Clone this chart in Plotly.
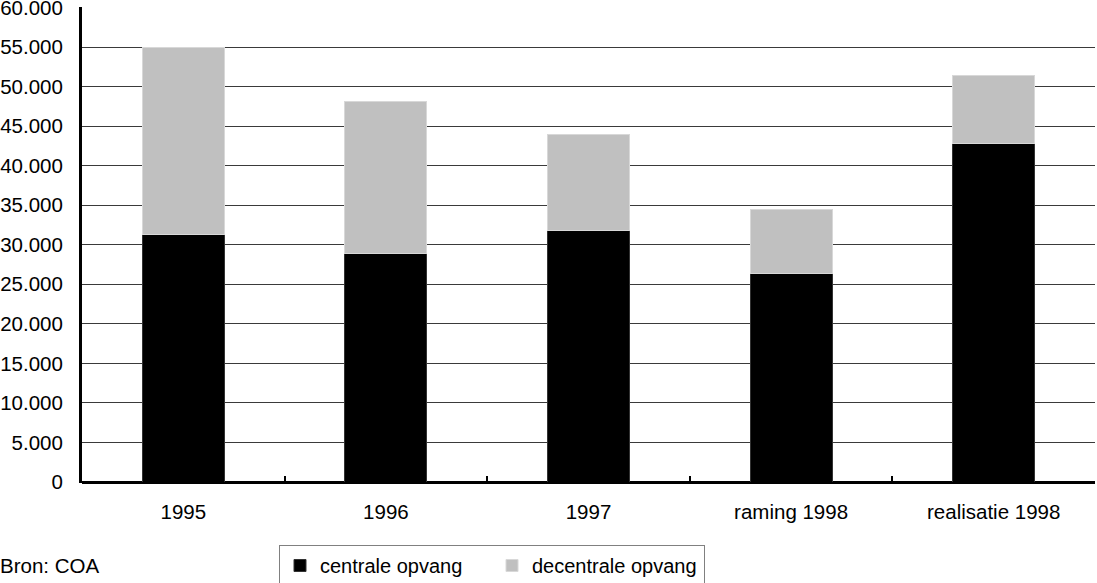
import plotly.graph_objects as go

categories = ["1995", "1996", "1997", "raming 1998", "realisatie 1998"]
centrale = [31300, 28900, 31800, 26400, 42800]
decentrale = [23700, 19200, 12200, 8000, 8600]
y_ticks = [0, 5000, 10000, 15000, 20000, 25000, 30000, 35000, 40000, 45000, 50000, 55000, 60000]

FONT = "Liberation Sans, Arial, Helvetica, sans-serif"
FS = 20.5

fig = go.Figure()
fig.add_trace(go.Bar(x=categories, y=centrale, name="centrale opvang",
                     marker=dict(color="#000000", line=dict(color="#333333", width=1))))
fig.add_trace(go.Bar(x=categories, y=decentrale, name="decentrale opvang",
                     marker=dict(color="#C0C0C0", line=dict(color="#D8D8D8", width=1))))

fig.update_layout(
    barmode="stack",
    bargap=0.595,
    width=1097, height=583,
    margin=dict(l=82, r=2, t=7, b=101, autoexpand=False),
    paper_bgcolor="white", plot_bgcolor="white",
    separators=",.",
    font=dict(family=FONT, size=FS, color="black"),
    showlegend=True,
    legend=dict(orientation="h", x=(279 - 82) / 1013, xanchor="left",
                y=(482 - 545) / 475, yanchor="top",
                bordercolor="#808080", borderwidth=1, bgcolor="white",
                font=dict(family=FONT, size=20), itemwidth=30,
                entrywidth=167, entrywidthmode="pixels",
                traceorder="normal"),
    xaxis=dict(type="category", showgrid=False, showline=True, linecolor="black",
               linewidth=0, ticks="inside", tickson="boundaries", ticklen=6,
               tickcolor="black", tickwidth=2, tickfont=dict(family=FONT, size=FS),
               ticklabelstandoff=11),
    yaxis=dict(range=[0, 60060], tickvals=y_ticks, tickformat=",d",
               showgrid=True, gridcolor="#3a3a3a", gridwidth=1,
               showline=True, linecolor="black", linewidth=3,
               zeroline=True, zerolinecolor="black", zerolinewidth=3,
               ticks="", tickfont=dict(family=FONT, size=FS),
               ticklabelstandoff=12, ticklabeloverflow="allow"),
    annotations=[dict(text="Bron: COA", xref="paper", yref="paper",
                      x=-84 / 1013, xanchor="left", y=(482 - 565) / 475, yanchor="middle",
                      showarrow=False, font=dict(family=FONT, size=FS))],
)

fig.write_html("out.html")
